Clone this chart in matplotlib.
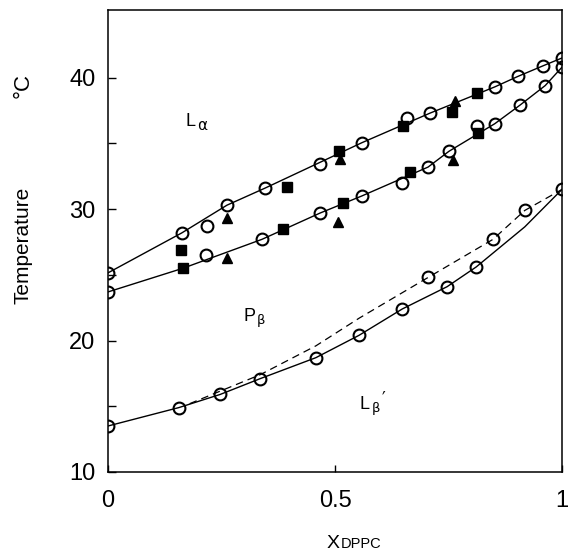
import matplotlib
matplotlib.use("Agg")
import matplotlib.pyplot as plt

# ---- data ----
# upper boundary (open circles)
up_circ_x = [0.0, 0.163, 0.218, 0.262, 0.346, 0.467, 0.559, 0.659, 0.709, 0.852, 0.903, 0.958, 1.0]
up_circ_T = [25.15, 28.2, 28.7, 30.3, 31.6, 33.4, 35.05, 36.9, 37.3, 39.3, 40.1, 40.9, 41.5]
up_line_x = [0.0, 0.163, 0.262, 0.346, 0.559, 0.709, 0.852, 0.903, 0.958, 1.0]
up_line_T = [25.15, 28.2, 30.3, 31.6, 35.05, 37.3, 39.3, 40.1, 40.9, 41.5]

# middle boundary (open circles)
mid_circ_x = [0.0, 0.216, 0.339, 0.467, 0.559, 0.648, 0.705, 0.751, 0.813, 0.852, 0.907, 0.963, 1.0]
mid_circ_T = [23.7, 26.5, 27.7, 29.7, 31.0, 32.0, 33.2, 34.4, 36.3, 36.5, 37.9, 39.4, 40.8]
mid_line_x = [0.0, 0.165, 0.339, 0.467, 0.559, 0.705, 0.751, 0.852, 0.907, 0.963, 1.0]
mid_line_T = [23.7, 25.5, 27.7, 29.7, 31.0, 33.2, 34.4, 36.5, 37.9, 39.4, 40.8]

# filled squares and triangles
sq_x = [0.161, 0.165, 0.385, 0.394, 0.509, 0.518, 0.650, 0.665, 0.758, 0.813, 0.815]
sq_T = [26.9, 25.5, 28.5, 31.7, 34.4, 30.5, 36.3, 32.8, 37.4, 38.8, 35.8]
tri_x = [0.262, 0.262, 0.511, 0.507, 0.764, 0.760]
tri_T = [29.3, 26.3, 33.8, 29.0, 38.2, 33.7]

# lower boundary (open circles), solid and dashed
low_circ_x = [0.0, 0.156, 0.247, 0.335, 0.458, 0.553, 0.648, 0.747, 0.811, 1.0]
low_circ_T = [13.5, 14.9, 15.9, 17.1, 18.7, 20.4, 22.4, 24.1, 25.6, 31.5]
low_line_x = [0.0, 0.156, 0.247, 0.335, 0.458, 0.553, 0.648, 0.747, 0.811, 0.918, 1.0]
low_line_T = [13.5, 14.9, 15.9, 17.1, 18.7, 20.4, 22.4, 24.1, 25.6, 28.65, 31.5]
dash_circ_x = [0.705, 0.848, 0.918]
dash_circ_T = [24.8, 27.7, 29.9]
dash_line_x = [0.18, 0.335, 0.458, 0.553, 0.705, 0.848, 0.918, 1.0]
dash_line_T = [15.2, 17.4, 19.6, 21.7, 24.8, 27.7, 29.9, 31.5]

xticks = [0, 0.5, 1]
xticklabels = ["0", "0.5", "1"]
yticks = [10, 20, 30, 40]
yminor = [15, 25, 35]

# ---- figure ----
fig = plt.figure(figsize=(5.70, 5.59), dpi=100)
ax = fig.add_axes([108/570, 1-472/559, (562-108)/570, (472-10)/559])
ax.set_xlim(0, 1)
ax.set_ylim(10, 45.15)

lw = 1.0
ax.plot(up_line_x, up_line_T, color="black", lw=lw)
ax.plot(mid_line_x, mid_line_T, color="black", lw=lw)
ax.plot(low_line_x, low_line_T, color="black", lw=lw)
ax.plot(dash_line_x, dash_line_T, color="black", lw=0.9, linestyle=(0, (6, 4)))

circ_kw = dict(linestyle="none", marker="o", markersize=8.5, markerfacecolor="none",
               markeredgecolor="black", markeredgewidth=1.5)
ax.plot(up_circ_x, up_circ_T, **circ_kw)
ax.plot(mid_circ_x, mid_circ_T, **circ_kw)
ax.plot(low_circ_x, low_circ_T, **circ_kw)
ax.plot(dash_circ_x, dash_circ_T, **circ_kw)
ax.plot(sq_x, sq_T, linestyle="none", marker="s", markersize=6.5, color="black")
ax.plot(tri_x, tri_T, linestyle="none", marker="^", markersize=7, color="black")

# axes styling
for s in ax.spines.values():
    s.set_linewidth(1.1)
ax.set_xticks(xticks)
ax.set_xticklabels(xticklabels)
ax.set_yticks(yticks)
ax.set_yticks(yminor, minor=True)
ax.tick_params(axis="both", which="both", direction="in", length=6, width=1.0,
               labelsize=17, top=False, right=False)
ax.tick_params(axis="y", which="major", pad=9)
ax.tick_params(axis="x", which="major", pad=13, length=5)
for lab in ax.get_xticklabels() + ax.get_yticklabels():
    lab.set_fontfamily("Liberation Sans")

# axis labels
fig.text(23/570, 1-245/559, "Temperature", rotation=90, ha="center", va="center",
         fontsize=15, family="Liberation Sans")
fig.text(23/570, 1-86/559, "°C", rotation=90, ha="center", va="center",
         fontsize=16, family="Liberation Sans")
fig.text(333/570, 1-548/559, "X", ha="center", va="baseline", fontsize=14,
         family="Liberation Sans")
fig.text(341/570, 1-548/559, "DPPC", ha="left", va="baseline", fontsize=10.5,
         family="Liberation Sans")

# phase labels
ax.text(0.181, 36.65, "L", ha="center", va="center", fontsize=13, family="Liberation Sans")
ax.text(0.207, 36.4, "α", ha="center", va="center", fontsize=11, family="DejaVu Sans")
ax.text(0.311, 21.8, "P", ha="center", va="center", fontsize=13, family="Liberation Sans")
ax.text(0.338, 21.5, "β", ha="center", va="center", fontsize=9.5, family="DejaVu Sans")
ax.text(0.566, 15.1, "L", ha="center", va="center", fontsize=13, family="Liberation Sans")
ax.text(0.591, 14.8, "β", ha="center", va="center", fontsize=9.5, family="DejaVu Sans")
ax.text(0.608, 15.6, "′", ha="center", va="center", fontsize=12, family="DejaVu Sans")

fig.savefig("out.png", dpi=100)
